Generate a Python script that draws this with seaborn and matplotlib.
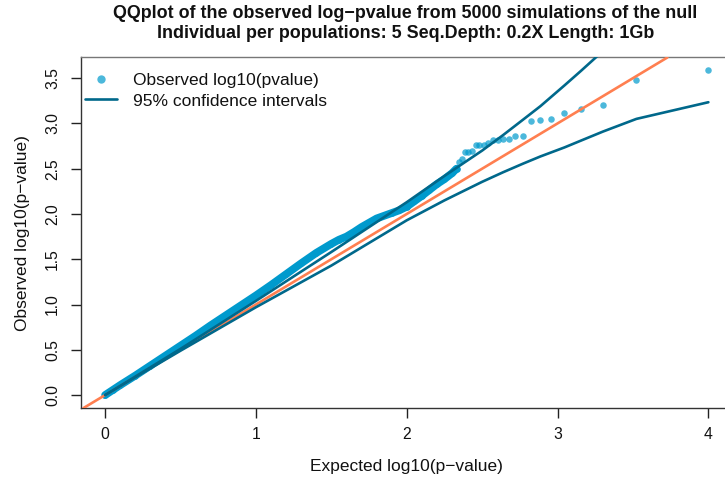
import matplotlib
matplotlib.use("Agg")
import matplotlib.pyplot as plt
import seaborn as sns
import pandas as pd
from matplotlib.lines import Line2D

sns.set_theme(style="white")
plt.rcParams['font.family'] = ['Liberation Sans', 'DejaVu Sans']

# ---- data ----
# tail points (clearly separated)
tail_expected = [4.000, 3.523, 3.301, 3.155, 3.046, 2.959, 2.886, 2.824, 2.770, 2.721,
                 2.678, 2.638, 2.602, 2.569, 2.538, 2.509, 2.481, 2.456, 2.432, 2.409,
                 2.387, 2.367, 2.347]
tail_observed = [3.585, 3.485, 3.204, 3.156, 3.119, 3.045, 3.041, 3.030, 2.864, 2.864,
                 2.827, 2.827, 2.820, 2.820, 2.780, 2.765, 2.760, 2.760, 2.690, 2.686,
                 2.680, 2.610, 2.570]
# dense body of the distribution (overlapping points)
body_expected = [0.00, 0.05, 0.10, 0.20, 0.30, 0.40, 0.50, 0.60, 0.70, 0.80, 0.90, 1.00,
                 1.10, 1.20, 1.30, 1.40, 1.50, 1.55, 1.60, 1.65, 1.70, 1.80, 1.90, 1.95,
                 2.00, 2.05, 2.10, 2.15, 2.20, 2.25, 2.30, 2.33]
body_observed = [0.000, 0.055, 0.110, 0.215, 0.325, 0.435, 0.545, 0.655, 0.770, 0.880,
                 0.990, 1.100, 1.215, 1.335, 1.455, 1.570, 1.670, 1.715, 1.750, 1.800,
                 1.855, 1.950, 2.010, 2.040, 2.080, 2.140, 2.200, 2.265, 2.330, 2.385,
                 2.450, 2.500]
# 95% confidence interval curves (polyline through the expected positions)
ci_x = [0.0, 0.5, 1.0, 1.5, 2.0, 2.25, 2.5, 2.638, 2.770, 2.886, 3.046, 3.155, 3.301,
        3.523, 4.000]
ci_upper = [0.0, 0.51, 1.04, 1.58, 2.13, 2.42, 2.70, 2.87, 3.04, 3.19, 3.42, 3.58, 3.80,
            4.20, 5.30]
ci_lower = [0.0, 0.49, 0.97, 1.43, 1.93, 2.15, 2.355, 2.46, 2.555, 2.635, 2.735, 2.81,
            2.91, 3.05, 3.234]

title_1 = "QQplot of the observed log\u2212pvalue from 5000 simulations of the null"
title_2 = "Individual per populations: 5 Seq.Depth: 0.2X Length: 1Gb"
xlabel = "Expected log10(p\u2212value)"
ylabel = "Observed log10(p\u2212value)"
legend_labels = ["Observed log10(pvalue)", "95% confidence intervals"]
x_ticks = [0, 1, 2, 3, 4]
y_ticks = [0.0, 0.5, 1.0, 1.5, 2.0, 2.5, 3.0, 3.5]

PT_COL = "#009ACD"
CI_COL = "#00688B"
AB_COL = "#FF7F50"
TXT = "#111111"

W, H = 725, 479
fig = plt.figure(figsize=(W / 100, H / 100), dpi=100)
ax = fig.add_axes([81 / W, (H - 408) / H, (732.5 - 81) / W, (408 - 57.5) / H])

body = pd.DataFrame({"x": body_expected, "y": body_observed})
tail = pd.DataFrame({"x": tail_expected, "y": tail_observed})
ci = pd.DataFrame({"x": ci_x, "up": ci_upper, "lo": ci_lower})

# dense band of overlapping points
sns.lineplot(data=body, x="x", y="y", sort=False, estimator=None, color=PT_COL,
             linewidth=5.6, solid_capstyle="round", solid_joinstyle="round", ax=ax,
             zorder=2)
sns.scatterplot(data=body, x="x", y="y", color=PT_COL, s=22, linewidth=0,
                ax=ax, zorder=2)
sns.scatterplot(data=tail, x="x", y="y", color=PT_COL, alpha=0.7, s=22, linewidth=0,
                ax=ax, zorder=2)

ax.axline((0, 0), slope=1, color=AB_COL, linewidth=1.9, zorder=3)
sns.lineplot(data=ci, x="x", y="up", color=CI_COL, linewidth=1.9, ax=ax, zorder=4)
sns.lineplot(data=ci, x="x", y="lo", color=CI_COL, linewidth=1.9, ax=ax, zorder=4)

ax.set_xlim(-0.16, 4.16)
ax.set_ylim(-0.143, 3.728)
ax.set_xticks(x_ticks)
ax.set_xticklabels([str(t) for t in x_ticks])
ax.set_yticks(y_ticks)
ax.set_yticklabels([f"{t:.1f}" for t in y_ticks], rotation=90, va="center")
ax.tick_params(axis="both", direction="out", length=7, width=1, color="#222222",
               labelsize=11.3, labelcolor=TXT, bottom=True, left=True)
ax.tick_params(axis="x", pad=7)
ax.tick_params(axis="y", pad=8)
for sp in ax.spines.values():
    sp.set_color("#333333")
    sp.set_linewidth(1.0)
ax.spines["top"].set_color("#777777")
ax.grid(False)

ax.set_xlabel(xlabel, fontsize=12.5, color=TXT)
ax.set_ylabel(ylabel, fontsize=12.5, color=TXT)
ax.xaxis.set_label_coords((406 - 81) / (732.5 - 81), -(466 - 408) / (408 - 57.5))
ax.yaxis.set_label_coords(-(81 - 22) / (732.5 - 81), 0.5)
ax.xaxis.label.set_va("center")
ax.yaxis.label.set_va("center")

fig.text(405.5 / W, 1 - 13 / H, title_1, ha="center", va="center", fontsize=12.9,
         fontweight="bold", color=TXT)
fig.text(405.5 / W, 1 - 34 / H, title_2, ha="center", va="center", fontsize=12.9,
         fontweight="bold", color=TXT)

handles = [Line2D([], [], marker="o", linestyle="none", color=PT_COL, alpha=0.7,
                  markersize=6, markeredgewidth=0),
           Line2D([], [], color=CI_COL, linewidth=1.9)]
leg = ax.legend(handles, legend_labels,
                loc="upper left", bbox_to_anchor=(85 / W, 1 - 73 / H),
                bbox_transform=fig.transFigure, frameon=False, fontsize=12.5,
                handlelength=1.84, handletextpad=0.92, labelspacing=0.3,
                borderpad=0, borderaxespad=0)
for t in leg.get_texts():
    t.set_color(TXT)

fig.savefig("out.png", dpi=100)
